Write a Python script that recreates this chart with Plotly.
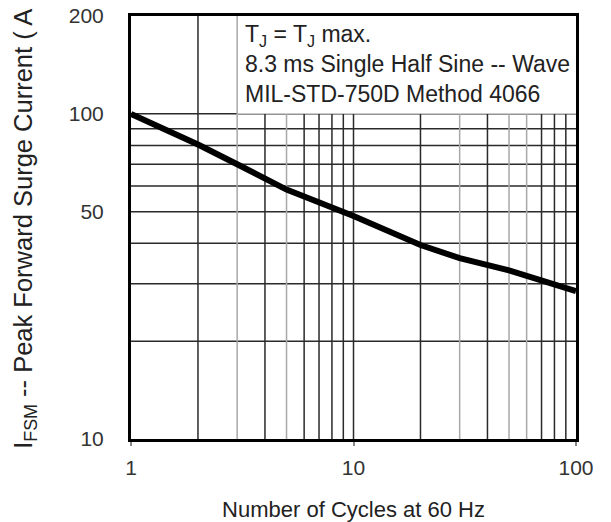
import plotly.graph_objects as go

# Data
cycles = [1, 2, 3, 5, 10, 20, 30, 50, 100]
surge_current = [100, 80.5, 70, 58.5, 48.5, 39.5, 36, 33, 28.5]

x_tick_vals = [1, 10, 100]
x_tick_text = ["1", "10", "100"]
y_tick_vals = [10, 50, 100, 200]
y_tick_text = ["10", "50", "100", "200"]

x_grid_dark = [2, 4, 6, 7, 8, 9, 10, 20, 40, 70, 80, 90]
x_grid_light = [5, 30, 50, 60]
x_grid_full = [2]          # lines that run to the top of the plot
y_grid = [20, 30, 40, 50, 60, 70, 80, 90, 100]

FONT = "Liberation Sans, Arial, sans-serif"
DARK = "#2a2a2a"
LIGHT = "#a8a8a8"

fig = go.Figure()
fig.add_trace(go.Scatter(x=cycles, y=surge_current, mode="lines",
                         line=dict(color="black", width=6), hoverinfo="skip",
                         showlegend=False))

shapes = []
for v in y_grid:
    shapes.append(dict(type="line", xref="x", yref="y", x0=1, x1=100, y0=v, y1=v,
                       line=dict(color=DARK, width=1.5), layer="below"))
for v in x_grid_dark:
    top = 200 if v in x_grid_full else 100
    shapes.append(dict(type="line", xref="x", yref="y", x0=v, x1=v, y0=10, y1=top,
                       line=dict(color=DARK, width=1.5), layer="below"))
for v in x_grid_light:
    shapes.append(dict(type="line", xref="x", yref="y", x0=v, x1=v, y0=10, y1=100,
                       line=dict(color=LIGHT, width=1.5), layer="below"))
# white note box drawn above the grid lines
shapes.append(dict(type="rect", xref="x", yref="y", x0=3, x1=100, y0=100, y1=200,
                   fillcolor="white", line=dict(width=0), layer="below"))
# note box edge (x = 3 light grid line, full height)
shapes.append(dict(type="line", xref="x", yref="y", x0=3, x1=3, y0=10, y1=200,
                   line=dict(color=LIGHT, width=1.5), layer="below"))

# page body adds an 8px offset, so the figure is 8px smaller and shifted
fig.update_layout(
    width=603, height=514,
    margin=dict(l=123, r=35, t=8, b=83, autoexpand=False),
    paper_bgcolor="white", plot_bgcolor="white",
    font=dict(family=FONT, size=22, color="#222"),
    shapes=shapes,
    showlegend=False,
    xaxis=dict(type="log", range=[0, 2], tickvals=x_tick_vals, ticktext=x_tick_text,
               automargin=False, ticklabeloverflow="allow",
               showgrid=False, zeroline=False, showline=True, linecolor="black",
               linewidth=3, mirror=True, ticks="outside", ticklen=4, tickcolor="#888",
               tickwidth=1.5, ticklabelstandoff=4,
               tickfont=dict(family=FONT, size=21, color="#333"),
               title=dict(text="Number of Cycles at 60 Hz", standoff=26,
                          font=dict(family=FONT, size=22, color="#222"))),
    yaxis=dict(type="log", range=[1, 2.30103], tickvals=y_tick_vals, ticktext=y_tick_text,
               automargin=False, ticklabeloverflow="allow",
               showgrid=False, zeroline=False, showline=True, linecolor="black",
               linewidth=3, mirror=True, ticks="", ticklen=0,
               tickfont=dict(family=FONT, size=21, color="#333"),
               ticklabelstandoff=20),
    annotations=[
        dict(xref="paper", yref="paper", x=0.251, y=0.993, xanchor="left", yanchor="top",
             align="left", showarrow=False,
             text="T<sub>J</sub> = T<sub>J</sub> max.<br>8.3 ms Single Half Sine -- Wave<br>MIL-STD-750D Method 4066",
             font=dict(family=FONT, size=23, color="#222")),
        dict(xref="paper", yref="paper", x=-0.240, y=0.514, xanchor="center", yanchor="middle",
             textangle=-90, showarrow=False,
             text="I<sub>FSM</sub> -- Peak Forward Surge Current ( A )",
             font=dict(family=FONT, size=25.5, color="#222")),
    ],
)

fig.write_html("out.html")
